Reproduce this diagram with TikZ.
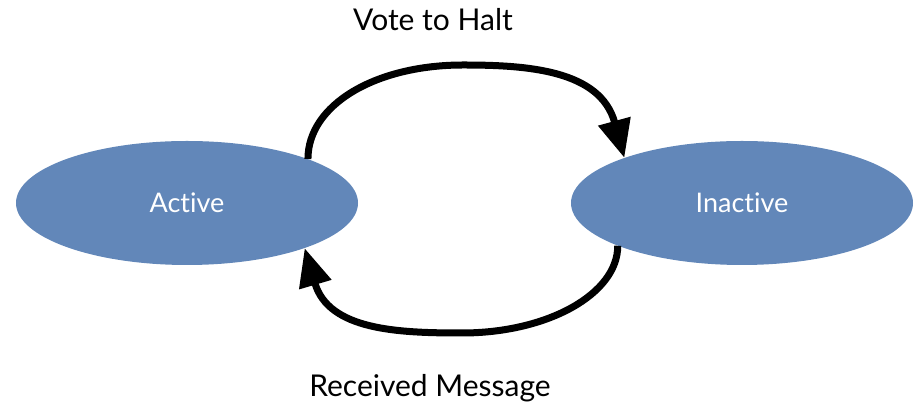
\documentclass[tikz,border=0pt]{standalone}
\usepackage{fontspec}
\setmainfont{Lato}[Ligatures={NoCommon,NoRare,NoContextual}]
\usetikzlibrary{shapes.geometric,arrows.meta}
\definecolor{stateblue}{RGB}{98,135,185}
\begin{document}
\begin{tikzpicture}[x=1pt,y=1pt,
  state/.style={ellipse,fill=stateblue,draw=none,minimum width=342pt,minimum height=124pt,inner sep=0pt,text=white,font=\fontsize{27}{32}\selectfont},
  transition/.style={line width=7pt,-{Triangle[width=32pt,length=38pt]}},
  caption/.style={font=\fontsize{30}{36}\selectfont}]
\useasboundingbox (0,0) rectangle (918,406);
\node[state] (active) at (187,203) {Active};
\node[state] (inactive) at (742,203) {Inactive};
\node[caption] (halt) at (433,386) {Vote to Halt};
\node[caption] (msg) at (430,18) {Received Message};
% highest and lowest points of the two arcs
\coordinate (toppeak) at (463,341);
\coordinate (botpeak) at (462,73);
% Active -> Inactive across the top
\draw[transition] (active.20) .. controls +(0,54) and +(-88,0) .. (toppeak)
  .. controls +(64,0) and +(-24,88) .. (inactive.159);
% Inactive -> Active across the bottom
\draw[transition] (inactive.199) .. controls +(0,-48) and +(86,0) .. (botpeak)
  .. controls +(-64,0) and +(24,-82) .. (active.-21);
\end{tikzpicture}
\end{document}
